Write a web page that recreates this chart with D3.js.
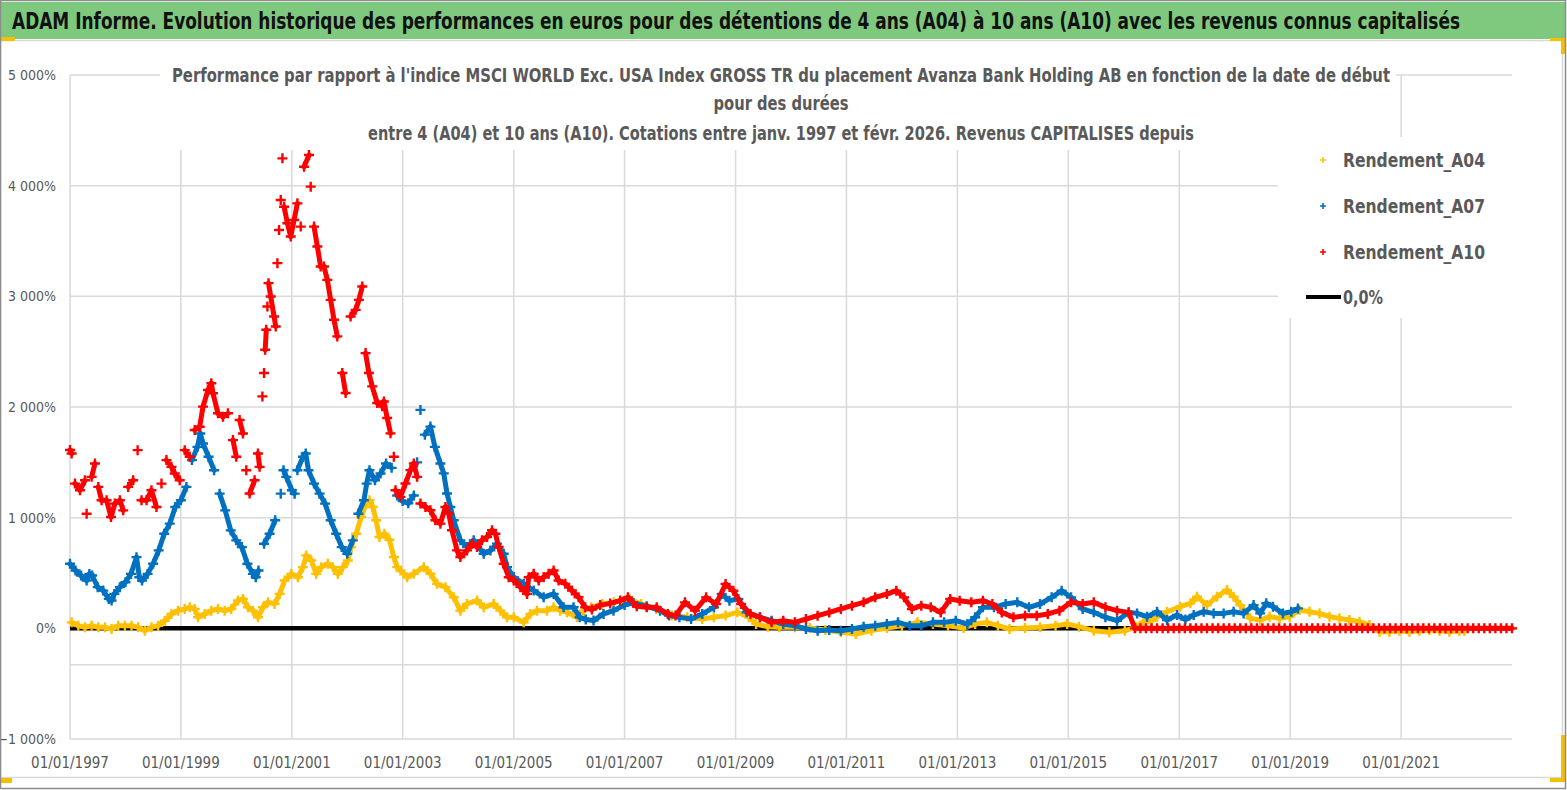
<!DOCTYPE html>
<html>
<head>
<meta charset="utf-8">
<script src="https://cdn.jsdelivr.net/npm/d3@7"></script>
<style>
  body { margin: 0; background: #fff; }
  svg { display: block; }
  text { font-family: "Liberation Sans Narrow", "DejaVu Sans Condensed", "Open Sans", sans-serif; }
</style>
</head>
<body>
<svg id="chart" width="1567" height="790"></svg>
<script>
var a04 = [[1997.03,54],[1997.15,24],[1997.27,9],[1997.39,24],[1997.51,9],[1997.63,9],[1997.75,-6],[1997.87,24],[1997.99,24],
  [1998.11,24],[1998.23,9],[1998.35,-21],[1998.47,9],[1998.59,24],[1998.71,69],[1998.83,130],[1998.95,160],
  [1999.07,175],[1999.16,190],[1999.25,175],[1999.31,100],[1999.43,130],[1999.55,160],[1999.67,175],[1999.79,160],[1999.91,175],
  [2000.03,251],[2000.12,266],[2000.21,190],[2000.30,160],[2000.39,100],[2000.48,190],[2000.57,236],[2000.69,221],[2000.78,311],[2000.87,432],[2000.99,492],
  [2001.11,462],[2001.20,553],[2001.26,659],[2001.35,613],[2001.44,492],[2001.53,553],[2001.65,583],[2001.74,553],[2001.83,492],[2001.92,553],
  [2002.01,613],[2002.07,734],[2002.16,855],[2002.25,1006],[2002.34,1127],[2002.40,1157],[2002.46,1097],[2002.52,976],[2002.58,825],[2002.67,855],[2002.76,800],[2002.84,644],[2002.90,553],[2002.96,523],
  [2003.08,462],[2003.20,493],[2003.38,553],[2003.50,493],[2003.62,402],[2003.77,372],[2003.92,281],
  [2004.04,160],[2004.16,221],[2004.34,251],[2004.46,190],[2004.64,221],[2004.76,160],[2004.88,100],
  [2005.00,100],[2005.18,54],[2005.30,130],[2005.42,160],[2005.60,160],[2005.72,190],[2005.84,160],[2005.96,145],
  [2006.14,100],[2006.26,160],[2006.40,190],[2006.60,220],[2006.81,235],
  [2007.09,265],[2007.30,220],[2007.57,175],[2007.85,115],
  [2008.13,100],[2008.40,84],[2008.61,100],[2008.82,115],
  [2009.03,145],[2009.24,100],[2009.37,39],[2009.58,15],[2009.79,9],
  [2010.07,9],[2010.34,3],[2010.62,-15],[2010.90,-36],
  [2011.17,-51],[2011.45,-21],[2011.73,3],
  [2012.00,24],[2012.28,54],[2012.56,39],[2012.83,24],
  [2013.11,3],[2013.32,39],[2013.53,54],[2013.73,24],[2013.94,-6],
  [2014.22,3],[2014.49,9],[2014.77,24],[2014.98,39],
  [2015.19,15],[2015.46,-21],[2015.74,-36],
  [2016.02,-21],[2016.22,9],[2016.36,60],[2016.50,69],[2016.60,105],[2016.78,150],
  [2017.02,196],[2017.20,226],[2017.32,286],[2017.50,210],[2017.68,286],[2017.86,346],[2017.98,286],
  [2018.10,210],[2018.28,90],[2018.46,75],[2018.63,105],[2018.81,90],[2018.99,105],
  [2019.17,166],[2019.35,150],[2019.53,135],[2019.71,105],[2019.89,90],
  [2020.07,75],[2020.25,60],[2020.43,30],[2020.61,-30],[2020.79,-30],[2020.97,-21],
  [2021.15,-30],[2021.33,-21],[2021.51,-15],[2021.69,-21],[2021.87,-30],
  [2022.05,-21],[2022.14,-25]];

var a07 = [[1997.00,583],[1997.10,523],[1997.20,477],[1997.30,432],[1997.35,492],[1997.40,477],[1997.50,372],[1997.60,341],[1997.70,266],[1997.75,251],[1997.80,311],[1997.90,372],
  [1998.00,417],[1998.10,492],[1998.20,643],[1998.25,462],[1998.30,432],[1998.40,492],[1998.50,583],[1998.60,704],[1998.70,855],[1998.80,946],[1998.90,1097],
  [1999.00,1157],[1999.10,1278],[1999.20,1520],[1999.30,1640],[1999.35,1761],[1999.40,1670],[1999.50,1550],[1999.60,1429],[1999.70,1217],[1999.80,1066],[1999.90,885],
  [2000.00,795],[2000.10,734],[2000.20,583],[2000.30,492],[2000.35,462],[2000.40,523],[2000.50,764],[2000.60,855],[2000.70,976],[2000.80,1217],[2000.85,1429],[2000.90,1369],
  [2001.00,1248],[2001.05,1217],[2001.10,1429],[2001.20,1550],[2001.25,1580],[2001.30,1429],[2001.40,1308],[2001.50,1217],[2001.60,1127],[2001.70,976],[2001.80,855],[2001.90,734],
  [2002.00,674],[2002.10,795],[2002.20,1036],[2002.30,1157],[2002.35,1308],[2002.40,1429],[2002.50,1338],[2002.60,1399],[2002.70,1489],[2002.80,1450],[2002.90,1200],
  [2003.00,1150],[2003.10,1130],[2003.20,1200],[2003.26,1500],[2003.32,1974],[2003.40,1750],[2003.50,1823],[2003.58,1640],[2003.68,1490],[2003.74,1400],[2003.80,1218],[2003.86,1097],[2003.92,976],
  [2004.04,795],[2004.16,735],[2004.28,795],[2004.46,674],[2004.58,704],[2004.70,765],[2004.82,674],[2004.88,553],
  [2005.00,463],[2005.18,402],[2005.36,342],[2005.54,281],[2005.72,311],[2005.90,190],
  [2006.08,190],[2006.19,100],[2006.30,80],[2006.44,70],[2006.62,130],[2006.80,160],
  [2007.00,210],[2007.16,230],[2007.40,200],[2007.64,160],[2007.80,115],[2007.99,100],
  [2008.20,84],[2008.40,130],[2008.61,190],[2008.75,310],[2008.89,250],
  [2009.05,265],[2009.20,145],[2009.44,100],[2009.65,69],[2009.86,39],
  [2010.07,24],[2010.27,-6],[2010.48,-21],[2010.69,-15],[2010.90,-21],
  [2011.10,-6],[2011.31,15],[2011.52,24],[2011.73,39],[2011.93,54],
  [2012.14,24],[2012.35,24],[2012.56,54],[2012.76,54],[2012.97,69],
  [2013.18,39],[2013.32,100],[2013.46,190],[2013.66,190],[2013.87,220],
  [2014.08,235],[2014.29,190],[2014.49,220],[2014.70,280],[2014.88,340],
  [2015.05,280],[2015.26,175],[2015.46,145],[2015.67,100],[2015.88,69],
  [2016.09,145],[2016.24,135],[2016.42,105],[2016.60,150],[2016.78,75],[2016.96,120],
  [2017.11,80],[2017.26,120],[2017.44,150],[2017.62,135],[2017.80,135],[2017.98,150],
  [2018.16,135],[2018.34,210],[2018.46,135],[2018.57,226],[2018.69,196],[2018.87,135],
  [2019.02,150],[2019.14,180]];

var a10 = [[1997.00,1611],[1997.03,1580],[1997.09,1308],[1997.18,1248],[1997.27,1338],[1997.30,1036],[1997.39,1369],[1997.45,1489],[1997.51,1278],[1997.57,1157],[1997.66,1157],[1997.74,1006],[1997.81,1127],[1997.90,1157],[1997.96,1066],
  [1998.05,1278],[1998.14,1338],[1998.22,1610],[1998.29,1157],[1998.38,1157],[1998.47,1248],[1998.56,1097],[1998.65,1308],[1998.74,1520],[1998.83,1459],[1998.89,1399],[1998.98,1338],
  [1999.07,1610],[1999.16,1550],[1999.25,1792],[1999.34,1822],[1999.40,2003],[1999.49,2154],[1999.55,2214],[1999.58,2124],[1999.67,1943],[1999.76,1912],[1999.85,1943],[1999.94,1701],
  [2000.00,1550],[2000.06,1882],[2000.12,1761],[2000.18,1429],[2000.24,1218],[2000.33,1338],[2000.39,1580],[2000.42,1459],[2000.47,2096],[2000.50,2307],[2000.52,2517],[2000.54,2698],[2000.56,2908],[2000.58,3119],
  [2000.62,2998],[2000.68,2818],[2000.71,2728],[2000.74,3300],[2000.77,3600],[2000.80,3871],[2000.83,4247],[2000.86,3810],[2000.92,3660],[2000.98,3540],
  [2001.04,3690],[2001.10,3840],[2001.16,3630],[2001.22,4171],[2001.31,4277],[2001.34,3991],[2001.40,3630],[2001.46,3450],[2001.52,3269],[2001.58,3269],[2001.64,3149],[2001.70,2968],[2001.76,2788],[2001.82,2638],[2001.91,2307],[2001.97,2126],
  [2002.06,2818],[2002.15,2878],[2002.21,2968],[2002.27,3089],[2002.33,2487],[2002.39,2307],[2002.45,2186],[2002.54,2036],[2002.63,2006],[2002.66,2050],[2002.72,1900],[2002.78,1762],[2002.84,1551],[2002.87,1248],[2002.96,1188],
  [2003.05,1309],[2003.14,1430],[2003.20,1490],[2003.26,1369],[2003.32,1128],[2003.41,1097],[2003.50,1067],[2003.59,976],[2003.68,946],[2003.77,1097],[2003.83,1037],[2003.89,886],[2003.98,704],
  [2004.04,644],[2004.16,704],[2004.25,765],[2004.34,735],[2004.43,795],[2004.52,825],[2004.61,886],[2004.67,855],[2004.73,735],[2004.82,583],[2004.91,462],
  [2005.00,432],[2005.12,372],[2005.24,311],[2005.27,462],[2005.36,493],[2005.45,432],[2005.54,462],[2005.63,493],[2005.72,523],[2005.81,432],[2005.93,402],
  [2006.05,342],[2006.17,281],[2006.29,190],[2006.41,170],[2006.56,210],[2006.74,225],[2006.92,251],
  [2007.06,280],[2007.22,200],[2007.40,190],[2007.58,190],[2007.78,130],[2007.92,115],
  [2008.09,235],[2008.27,160],[2008.47,280],[2008.65,220],[2008.82,400],[2008.96,340],
  [2009.10,220],[2009.27,130],[2009.44,100],[2009.65,54],[2009.86,69],
  [2010.07,54],[2010.27,84],[2010.48,114],[2010.69,144],[2010.90,175],
  [2011.10,205],[2011.31,235],[2011.52,280],[2011.73,310],[2011.90,340],
  [2012.04,280],[2012.18,175],[2012.35,205],[2012.52,190],[2012.70,144],[2012.87,265],
  [2013.04,250],[2013.25,235],[2013.46,250],[2013.63,220],[2013.80,144],
  [2014.01,100],[2014.22,114],[2014.43,114],[2014.63,130],[2014.84,160],
  [2015.05,235],[2015.26,220],[2015.46,235],[2015.67,190],[2015.88,160],
  [2016.09,144],
  [2016.2,0],[2016.3,0],[2016.4,0],[2016.5,0],[2016.6,0],[2016.7,0],[2016.8,0],[2016.9,0],
  [2017.0,0],[2017.1,0],[2017.2,0],[2017.3,0],[2017.4,0],[2017.5,0],[2017.6,0],[2017.7,0],[2017.8,0],[2017.9,0],
  [2018.0,0],[2018.1,0],[2018.2,0],[2018.3,0],[2018.4,0],[2018.5,0],[2018.6,0],[2018.7,0],[2018.8,0],[2018.9,0],
  [2019.0,0],[2019.1,0],[2019.2,0],[2019.3,0],[2019.4,0],[2019.5,0],[2019.6,0],[2019.7,0],[2019.8,0],[2019.9,0],
  [2020.0,0],[2020.1,0],[2020.2,0],[2020.3,0],[2020.4,0],[2020.5,0],[2020.6,0],[2020.7,0],[2020.8,0],[2020.9,0],
  [2021.0,0],[2021.1,0],[2021.2,0],[2021.3,0],[2021.4,0],[2021.5,0],[2021.6,0],[2021.7,0],[2021.8,0],[2021.9,0],
  [2022.0,0],[2022.1,0],[2022.2,0],[2022.3,0],[2022.4,0],[2022.5,0],[2022.6,0],[2022.7,0],[2022.8,0],[2022.9,0],[2023.0,0]];

var zeroLine = [[1997.0,0],[2023.0,0]];

var seriesNames = ["Rendement_A04", "Rendement_A07", "Rendement_A10"];
var zeroName = "0,0%";
var xTickLabels = ["01/01/1997","01/01/1999","01/01/2001","01/01/2003","01/01/2005","01/01/2007","01/01/2009",
  "01/01/2011","01/01/2013","01/01/2015","01/01/2017","01/01/2019","01/01/2021"];
var yTicks = [-1000, 0, 1000, 2000, 3000, 4000, 5000];
var axisCrossValue = -330;

var banner = "ADAM Informe. Evolution historique des performances en euros pour des détentions de 4 ans (A04) à 10 ans (A10) avec les revenus connus capitalisés";
var titleLines = ["Performance par rapport à l'indice MSCI WORLD Exc. USA Index GROSS TR  du placement Avanza Bank Holding AB en fonction de la date de début",
  "pour des durées",
  "entre 4 (A04) et 10 ans (A10). Cotations entre janv. 1997 et févr. 2026. Revenus CAPITALISES depuis"];

// ---- drawing ----
var svg = d3.select("#chart");
var W = 1567, H = 790;
var plotL = 70, plotR = 1512, plotT = 75, plotB = 739;
var colors = ["#FFC000", "#0070C0", "#FF0000"];
var grey = "#595959", gridCol = "#d9d9d9";

function toDate(t) {
  var y0 = Math.floor(t);
  var d0 = new Date(y0, 0, 1), d1 = new Date(y0 + 1, 0, 1);
  return new Date(+d0 + (t - y0) * (d1 - d0));
}
var parseTick = d3.timeParse("%d/%m/%Y");

var x = d3.scaleTime().domain([new Date(1997, 0, 1), new Date(2023, 0, 1)]).range([plotL, plotR]);
var y = d3.scaleLinear().domain([-1000, 5000]).range([plotB, plotT]);

svg.append("rect").attr("width", W).attr("height", H).attr("fill", "#fff");

// chart frame
svg.append("rect").attr("x", 0.5).attr("y", 40.5).attr("width", 1562).attr("height", 737)
  .attr("fill", "none").attr("stroke", gridCol).attr("stroke-width", 1.5);

// banner
svg.append("rect").attr("x", 1).attr("y", 2).attr("width", 1564).attr("height", 37).attr("fill", "#7ec97e");
svg.append("text").attr("x", 12).attr("y", 29).attr("font-size", 23).attr("font-weight", "bold")
  .attr("fill", "#111").attr("textLength", 1448).attr("lengthAdjust", "spacingAndGlyphs").text(banner);

// gridlines
var g = svg.append("g");
g.selectAll("line.h").data(yTicks.concat([axisCrossValue])).enter().append("line")
  .attr("x1", plotL).attr("x2", plotR).attr("y1", d => y(d)).attr("y2", d => y(d))
  .attr("stroke", gridCol).attr("stroke-width", 1.5);
g.selectAll("line.v").data(xTickLabels).enter().append("line")
  .attr("x1", d => x(parseTick(d))).attr("x2", d => x(parseTick(d)))
  .attr("y1", plotT).attr("y2", plotB)
  .attr("stroke", gridCol).attr("stroke-width", 1.5);

// y axis labels
svg.append("g").selectAll("text").data(yTicks).enter().append("text")
  .attr("x", 56).attr("y", d => y(d) + 5).attr("text-anchor", "end")
  .attr("font-size", 14).attr("fill", grey)
  .text(d => d3.format(",")(d).replace(/,/g, "\u00a0") + "%");

// x axis labels
svg.append("g").selectAll("text").data(xTickLabels).enter().append("text")
  .attr("x", d => x(parseTick(d))).attr("y", 768).attr("text-anchor", "middle")
  .attr("font-size", 15).attr("fill", grey).text(d => d);

// title box masking the grid
svg.append("rect").attr("x", 160).attr("y", 58).attr("width", 1236).attr("height", 92).attr("fill", "#fff");
var tl = svg.append("g").attr("font-size", 19).attr("font-weight", "bold").attr("fill", grey)
  .attr("text-anchor", "middle").style("white-space", "pre");
var titleWidths = [1218, 135, 826];
var titleY = [82, 110, 140];
titleLines.forEach(function (t, i) {
  tl.append("text").attr("x", 781).attr("y", titleY[i])
    .attr("textLength", titleWidths[i]).attr("lengthAdjust", "spacingAndGlyphs").text(t);
});

// legend box masking the grid
svg.append("rect").attr("x", 1278).attr("y", 137).attr("width", 240).attr("height", 181).attr("fill", "#fff");

// zero series
svg.append("path").datum(zeroLine)
  .attr("d", d3.line().x(d => x(toDate(d[0]))).y(d => y(d[1])))
  .attr("stroke", "#000").attr("stroke-width", 4.5).attr("fill", "none");

// scatter series : joins only between close neighbours (dense band look), plus markers
var plus = "M-5,0H5M0,-5V5";
[a04, a07, a10].forEach(function (data, i) {
  var sg = svg.append("g");
  var pts = data.map(d => [x(toDate(d[0])), y(d[1])]);
  var segs = [];
  for (var k = 1; k < pts.length; k++) {
    if (Math.abs(pts[k][1] - pts[k - 1][1]) < 22 && pts[k][0] - pts[k - 1][0] < 18) segs.push([pts[k - 1], pts[k]]);
  }
  sg.selectAll("path.seg").data(segs).enter().append("path")
    .attr("d", d => d3.line()(d)).attr("stroke", colors[i]).attr("stroke-width", 5)
    .attr("stroke-linecap", "round").attr("fill", "none");
  sg.selectAll("path.pt").data(pts).enter().append("path")
    .attr("transform", d => "translate(" + d[0] + "," + d[1] + ")")
    .attr("d", plus).attr("stroke", colors[i]).attr("stroke-width", 2.4).attr("fill", "none");
});

// legend
var lg = svg.append("g").attr("font-size", 19).attr("font-weight", "bold").attr("fill", grey);
var legY = [160, 206, 252, 297];
seriesNames.forEach(function (n, i) {
  lg.append("path").attr("transform", "translate(1323," + legY[i] + ")")
    .attr("d", "M-3,0H3M0,-3V3").attr("stroke", colors[i]).attr("stroke-width", 1.6);
  lg.append("text").attr("x", 1343).attr("y", legY[i] + 7)
    .attr("textLength", 142).attr("lengthAdjust", "spacingAndGlyphs").text(n);
});
lg.append("line").attr("x1", 1306).attr("x2", 1341).attr("y1", legY[3]).attr("y2", legY[3])
  .attr("stroke", "#000").attr("stroke-width", 4);
lg.append("text").attr("x", 1343).attr("y", legY[3] + 7).attr("textLength", 40)
  .attr("lengthAdjust", "spacingAndGlyphs").text(zeroName);

// selection handles and outer border
var handles = [[0,37,15,4],[1550,38,15,3],[1561,38,4,16],[1561,735,4,47],[1550,778,15,4],[0,778,12,5]];
svg.append("g").selectAll("rect").data(handles).enter().append("rect")
  .attr("x", d => d[0]).attr("y", d => d[1]).attr("width", d => d[2]).attr("height", d => d[3])
  .attr("fill", "#f5c000");
svg.append("rect").attr("x", 0.5).attr("y", 0.5).attr("width", 1565).attr("height", 788)
  .attr("fill", "none").attr("stroke", "#8c8c8c").attr("stroke-width", 1.5);
</script>
</body>
</html>
